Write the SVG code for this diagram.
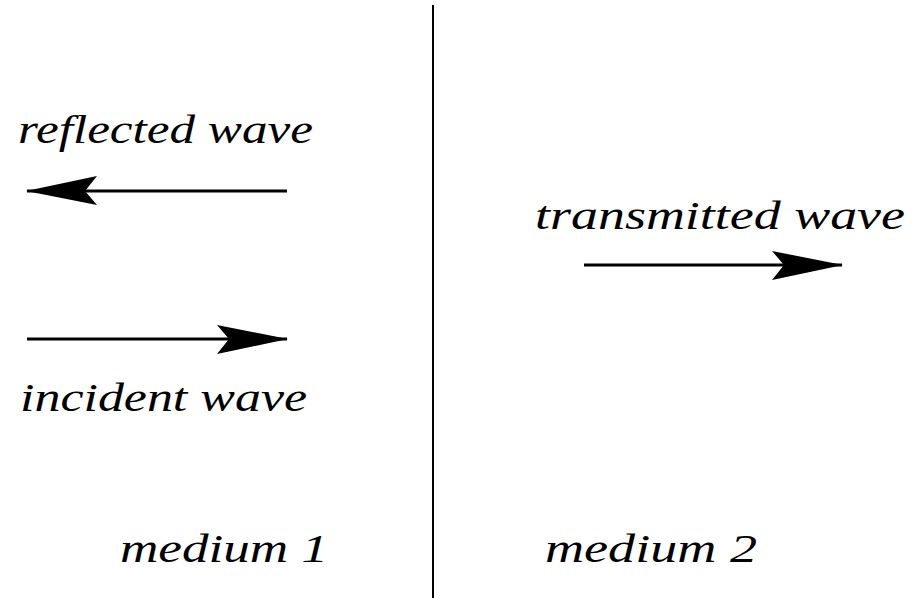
<svg xmlns="http://www.w3.org/2000/svg" width="912" height="598" viewBox="0 0 912 598">
<style>
.lbl{font-family:"Liberation Serif","DejaVu Serif",serif;font-style:italic;font-size:40px;fill:#000}
.arr{stroke:#000;stroke-width:3;fill:none}
.div{stroke:#000;stroke-width:2}
</style>
<defs>
<marker id="head" viewBox="-72 -16 74 32" markerWidth="74" markerHeight="32" refX="0" refY="0" markerUnits="userSpaceOnUse" orient="auto">
<path d="M1,0 L-70,-14 L-58,0 L-70,15 Z" fill="#000"/>
</marker>
</defs>
<rect width="912" height="598" fill="#fff"/>
<g id="interface"><line class="div" x1="433" y1="5" x2="433" y2="598"/></g>
<g id="connectors">
<line class="arr" x1="287" y1="191" x2="27" y2="191" marker-end="url(#head)"/>
<line class="arr" x1="27" y1="339" x2="287" y2="339" marker-end="url(#head)"/>
<line class="arr" x1="584" y1="265" x2="842" y2="265" marker-end="url(#head)"/>
</g>
<g id="reflected"><text class="lbl" x="18" y="143" textLength="295" lengthAdjust="spacingAndGlyphs">reflected wave</text></g>
<g id="incident"><text class="lbl" x="20" y="411" textLength="287" lengthAdjust="spacingAndGlyphs">incident wave</text></g>
<g id="transmitted"><text class="lbl" x="535" y="229" textLength="370" lengthAdjust="spacingAndGlyphs">transmitted wave</text></g>
<g id="medium1"><text class="lbl" x="120" y="562" textLength="208" lengthAdjust="spacingAndGlyphs">medium 1</text></g>
<g id="medium2"><text class="lbl" x="545" y="562" textLength="212" lengthAdjust="spacingAndGlyphs">medium 2</text></g>
</svg>
